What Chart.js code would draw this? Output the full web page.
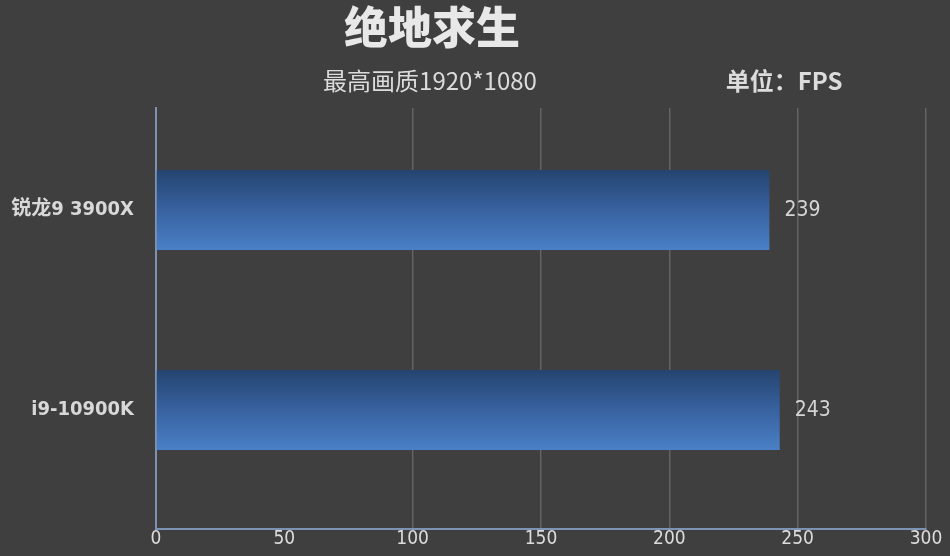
<!DOCTYPE html>
<html>
<head>
<meta charset="utf-8">
<script src="https://cdn.jsdelivr.net/npm/chart.js@4"></script>
<style>
  html, body { margin: 0; padding: 0; background: #3f3f3f; }
  #wrap { position: relative; width: 950px; height: 556px; }
</style>
</head>
<body>
<div id="wrap"><canvas id="fpsChart"></canvas></div>
<script>
  // chart data
  const cpus = ["锐龙9 3900X", "i9-10900K"];
  const fps = [239, 243];
  const xTicks = [0, 50, 100, 150, 200, 250, 300];

  const titleText = "绝地求生";
  const subText = "最高画质1920*1080";
  const unitText = "单位：FPS";

  const tickFont = "'Liberation Sans Narrow', 'DejaVu Sans Condensed', 'Noto Sans CJK SC', sans-serif";
  const cjkFont = "'Noto Sans CJK SC', sans-serif";

  // bar gradient, dark on top and lighter below (set once bars have positions)
  const gradientPlugin = {
    id: "barGradient",
    beforeDatasetsDraw(chart) {
      const meta = chart.getDatasetMeta(0);
      meta.data.forEach((bar) => {
        const half = bar.height / 2;
        if (!isFinite(bar.y) || !isFinite(half)) return;
        const g = chart.ctx.createLinearGradient(0, bar.y - half, 0, bar.y + half);
        g.addColorStop(0, "#25446f");
        g.addColorStop(0.5, "#3862a0");
        g.addColorStop(1, "#4a80c6");
        bar.options = Object.assign({}, bar.options, { backgroundColor: g });
      });
    }
  };

  // headings and value labels
  const textPlugin = {
    id: "texts",
    afterDraw(chart) {
      const ctx = chart.ctx;
      ctx.save();
      ctx.textBaseline = "middle";
      ctx.fillStyle = "#e8e8e8";
      ctx.font = "900 44px " + cjkFont;
      ctx.textAlign = "center";
      ctx.fillText(titleText, 432, 27);
      ctx.fillStyle = "#dcdcdc";
      ctx.font = "24px " + cjkFont;
      ctx.fillText(subText, 430, 81);
      ctx.font = "bold 24px " + cjkFont;
      ctx.fillText(unitText, 784, 81);

      const meta = chart.getDatasetMeta(0);
      ctx.textAlign = "left";
      ctx.fillStyle = "#d4d4d4";
      ctx.font = "21px " + tickFont;
      meta.data.forEach((bar, i) => {
        ctx.fillText(String(fps[i]), bar.x + 15, bar.y + 1);
      });
      ctx.restore();
    }
  };

  const ctx = document.getElementById("fpsChart").getContext("2d");
  const fpsChart = new Chart(ctx, {
    type: "bar",
    data: {
      datasets: [
        {
          label: "FPS",
          data: fps.map((v, i) => ({ x: v, y: i })),
          backgroundColor: "#3862a0",
          borderWidth: 0,
          barPercentage: 0.4,
          categoryPercentage: 1,
        },
      ],
    },
    options: {
      indexAxis: "y",
      responsive: true,
      maintainAspectRatio: false,
      animation: false,
      layout: {
        padding: { top: 108, right: 24, bottom: 0, left: 0 },
      },
      plugins: {
        legend: { display: false },
        tooltip: { enabled: false },
      },
      scales: {
        x: {
          type: "linear",
          min: xTicks[0],
          max: xTicks[xTicks.length - 1],
          afterBuildTicks: (axis) => {
            axis.ticks = xTicks.map((v) => ({ value: v }));
          },
          afterFit: (axis) => {
            axis.height = 27;
          },
          border: { display: true, color: "#7d93b6", width: 2 },
          grid: {
            drawTicks: false,
            color: (c) => (c.tick && c.tick.value > 50 ? "#636363" : "rgba(0,0,0,0)"),
            lineWidth: 1.5,
          },
          ticks: {
            color: "#dcdcdc",
            padding: -1,
            font: { size: 19, family: tickFont },
          },
        },
        y: {
          type: "linear",
          reverse: true,
          offset: false,
          min: -0.51,
          max: 1.595,
          afterBuildTicks: (axis) => {
            axis.ticks = cpus.map((c, i) => ({ value: i }));
          },
          afterFit: (axis) => {
            axis.width = 156;
            axis.paddingTop = 0;
            axis.paddingBottom = 0;
          },
          border: { display: true, color: "#7d93b6", width: 2 },
          grid: { display: false, drawTicks: false, offset: false },
          ticks: {
            color: "#d8d8d8",
            padding: 22,
            font: { size: 20, weight: "bold", family: tickFont },
            callback: (v) => cpus[v] ?? "",
          },
        },
      },
    },
    plugins: [gradientPlugin, textPlugin],
  });
</script>
</body>
</html>
